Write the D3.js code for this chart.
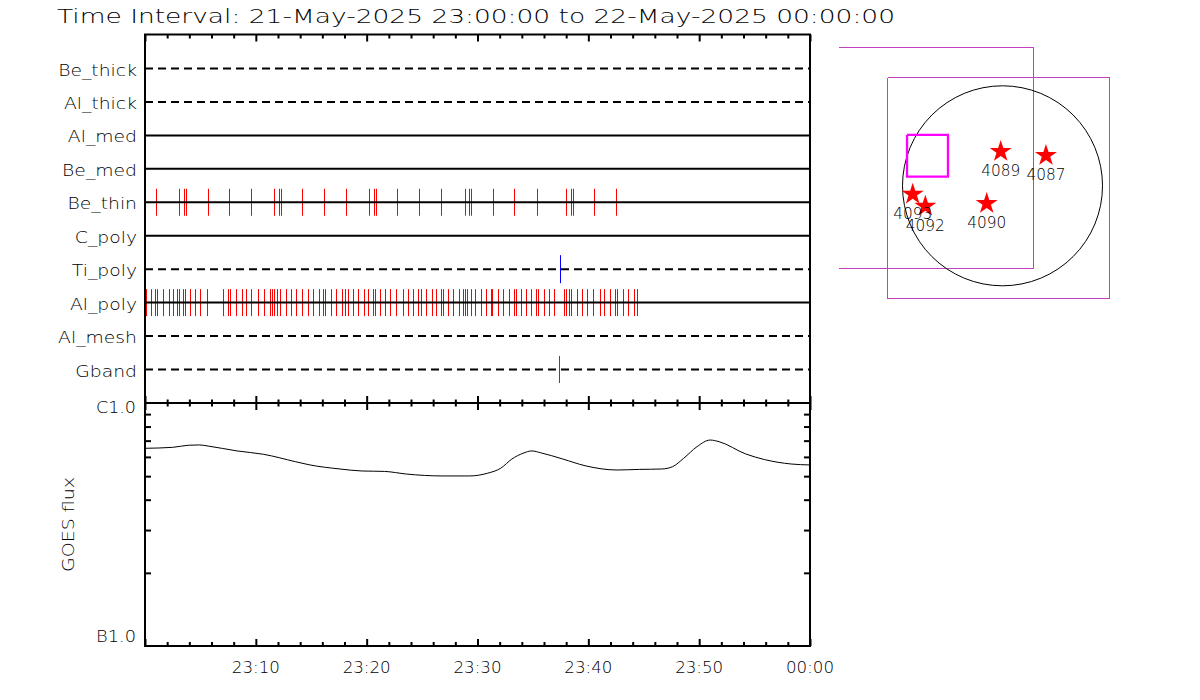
<!DOCTYPE html>
<html><head><meta charset="utf-8">
<script src="https://cdn.jsdelivr.net/npm/d3@7"></script>
<style>
body{margin:0;background:#fff}
svg{display:block}
text{font-family:"DejaVu Sans",sans-serif;font-weight:200;fill:#000}
</style>
</head><body>
<svg id="c" width="1200" height="700"></svg>
<script>
// ---------------- DATA ----------------
const titleText = "Time Interval: 21-May-2025 23:00:00 to 22-May-2025 00:00:00";
const channels = ["Be_thick","Al_thick","Al_med","Be_med","Be_thin","C_poly","Ti_poly","Al_poly","Al_mesh","Gband"];
const dashedChannels = ["Be_thick","Al_thick","Ti_poly","Al_mesh","Gband"];
// exposure times, minutes after 23:00
const beThinMin = [0.99,3.07,3.52,3.70,5.68,7.58,9.56,11.64,12.09,12.27,14.17,16.15,18.14,20.21,20.66,20.84,22.74,24.72,26.71,28.87,29.23,29.41,31.40,33.29,35.37,37.99,38.44,38.62,40.51,42.50];
const alPolyMin = [0.09,0.54,0.90,1.08,1.62,2.17,2.53,2.89,3.07,3.43,3.61,4.06,4.51,4.96,5.59,7.04,7.49,7.67,8.21,8.75,9.11,9.56,10.20,10.74,11.28,11.46,11.64,11.91,12.18,12.72,13.17,13.62,14.17,14.71,15.16,15.70,16.06,16.24,16.78,17.23,17.77,18.05,18.32,18.77,19.22,19.76,20.12,20.57,20.75,21.20,21.65,22.11,22.65,23.28,23.73,24.18,24.63,24.90,25.35,25.89,26.26,26.71,26.89,27.34,27.79,28.33,28.69,28.87,29.05,29.41,29.77,30.32,30.77,31.22,31.31,31.85,32.30,32.84,33.29,33.47,33.92,34.38,34.83,35.28,35.46,36.00,36.45,36.90,37.80,37.98,38.26,38.44,38.98,39.43,39.88,40.42,41.05,41.41,41.95,42.41,42.59,43.13,43.58,44.12,44.39];
const tiPolyMin = [37.47];
const gbandMin = [37.38];
// GOES flux (units of 1e-7 W/m^2)
const goesMin  = [0,2.5,3.9,4.9,5.7,8.3,10.7,13.6,14.8,17.6,19.6,21.6,23.6,26.8,29.3,30.9,32.1,33.1,34.1,34.9,35.7,37.7,39.7,42.6,44.6,46.6,47.6,48.6,49.8,51.0,51.8,54.2,55.9,58.3,60];
const goesFlux = [6.51,6.57,6.70,6.72,6.65,6.35,6.15,5.73,5.57,5.35,5.25,5.23,5.10,5.01,5.01,5.14,5.39,5.88,6.21,6.35,6.24,5.88,5.52,5.30,5.33,5.35,5.47,5.92,6.61,7.04,6.93,6.17,5.85,5.61,5.56];
const xTickLabels = ["23:10","23:20","23:30","23:40","23:50","00:00"];
const goesTickLabels = ["C1.0","B1.0"];
const goesYLabel = "GOES flux";
// active regions (arcsec from disk centre)
const arNames = ["4089","4087","4093","4092","4090"];
const arX = [-17,413,-853,-733,-150];
const arY = [326,288,-80,-194,-168];
const fovBox = [-907,-518,87,483];         // x0,x1,y0,y1 arcsec
const outerSquare = [-1090,1015,-1075,1027];
const otherRect = [-1553,293,-790,1316];
const sunRadius = 950;

// ---------------- CHART ----------------
const svg = d3.select("#c");
const t0 = Date.UTC(2025,4,21,23,0,0);
const toDate = m => new Date(t0 + m*60000);
const L = 145, R = 810, T1 = 34.5, B1 = 403, B2 = 646;
const x = d3.scaleUtc().domain([toDate(0), toDate(60)]).range([L, R]);
const yRow = d3.scalePoint().domain(channels).range([68.5, 369.5]);
const yG = d3.scaleLog().domain([1e-7, 1e-6]).range([B2, B1]);

// title
svg.append("text").attr("x",57).attr("y",23).attr("font-size",20)
  .attr("textLength",838).attr("lengthAdjust","spacingAndGlyphs").text(titleText);

// exposure ticks
const tickSets = [
  {ch:"Be_thin", t:beThinMin, c:"#ff0000", h:13.5},
  {ch:"Al_poly", t:alPolyMin, c:"#ff0000", h:13.5},
  {ch:"Ti_poly", t:tiPolyMin, c:"#0000ff", h:14},
  {ch:"Gband",   t:gbandMin,  c:"#ff0000", h:13.5}
];
tickSets.forEach(s => {
  svg.append("g").selectAll("line").data(s.t).join("line")
    .attr("x1", d => Math.round(x(toDate(d)))+0.5).attr("x2", d => Math.round(x(toDate(d)))+0.5)
    .attr("y1", yRow(s.ch)-s.h).attr("y2", yRow(s.ch)+s.h)
    .attr("stroke", s.c).attr("stroke-width",1);
});

// channel lines
svg.append("g").selectAll("line").data(channels).join("line")
  .attr("x1",L).attr("x2",R).attr("y1",d=>yRow(d)).attr("y2",d=>yRow(d))
  .attr("stroke","#000").attr("stroke-width",2)
  .attr("stroke-dasharray",d=>dashedChannels.includes(d)?"8,5":null);

// channel labels
svg.append("g").selectAll("text").data(channels).join("text")
  .attr("x",137).attr("y",d=>yRow(d)+7).attr("text-anchor","end").attr("font-size",15)
  .text(d=>d)
  .each(function(){ const w=this.getComputedTextLength(); d3.select(this).attr("textLength",w*1.25).attr("lengthAdjust","spacingAndGlyphs"); });

// time ticks
const major = d3.utcMinute.every(10).range(toDate(0), toDate(60.01));
const minor = d3.utcMinute.every(2).range(toDate(0), toDate(60.01)).filter(d=>d.getUTCMinutes()%10!==0);
function tAxis(gen, y, size, vals){
  svg.append("g").attr("transform",`translate(0,${y})`)
    .call(gen(x).tickValues(vals).tickSize(size).tickFormat(""))
    .call(g=>{g.select(".domain").remove(); g.selectAll("line").attr("stroke-width",2);});
}
tAxis(d3.axisBottom, T1, 4, minor); tAxis(d3.axisBottom, T1, 7, major);
tAxis(d3.axisTop, B1, 3.5, minor);  tAxis(d3.axisTop, B1, 7, major);
tAxis(d3.axisBottom, B1, 3.5, minor); tAxis(d3.axisBottom, B1, 7, major);
tAxis(d3.axisTop, B2, 4, minor); tAxis(d3.axisTop, B2, 7, major);

// GOES minor log ticks
const logTicks = yG.ticks().filter(v => v>1e-7*1.01 && v<1e-6*0.99);
[[d3.axisRight,L],[d3.axisLeft,R]].forEach(([gen,xx])=>{
  svg.append("g").attr("transform",`translate(${xx},0)`)
    .call(gen(yG).tickValues(logTicks).tickSize(6).tickFormat(""))
    .call(g=>{g.select(".domain").remove(); g.selectAll("line").attr("stroke-width",2);});
});

// GOES curve
const goes = goesMin.map((m,i)=>({t:toDate(m), v:goesFlux[i]*1e-7}));
svg.append("path").datum(goes)
  .attr("d", d3.line().x(d=>x(d.t)).y(d=>yG(d.v)).curve(d3.curveMonotoneX))
  .attr("fill","none").attr("stroke","#000").attr("stroke-width",1);

// frames
svg.append("rect").attr("x",L).attr("y",T1).attr("width",R-L).attr("height",B1-T1)
  .attr("fill","none").attr("stroke","#000").attr("stroke-width",2);
svg.append("rect").attr("x",L).attr("y",B1).attr("width",R-L).attr("height",B2-B1)
  .attr("fill","none").attr("stroke","#000").attr("stroke-width",2);

// GOES labels
svg.append("g").selectAll("text").data([1e-6,1e-7]).join("text")
  .attr("x",136).attr("y",d=>d===1e-6? yG(d)+10 : yG(d)-4).attr("text-anchor","end").attr("font-size",15)
  .attr("textLength",40).attr("lengthAdjust","spacingAndGlyphs")
  .text((d,i)=>goesTickLabels[i]);
svg.append("text").attr("transform",`translate(74,${(B1+B2)/2+0}) rotate(-90)`)
  .attr("text-anchor","middle").attr("font-size",15)
  .attr("textLength",95).attr("lengthAdjust","spacingAndGlyphs").text(goesYLabel);

// x labels
svg.append("g").selectAll("text").data(major.slice(1)).join("text")
  .attr("x",d=>x(d)).attr("y",673).attr("text-anchor","middle").attr("font-size",15)
  .attr("textLength",48).attr("lengthAdjust","spacingAndGlyphs")
  .text((d,i)=>xTickLabels[i]);

// ---------------- INSET ----------------
const sx = d3.scaleLinear().domain([0,950]).range([1002.5, 1002.5+100]);
const sy = d3.scaleLinear().domain([0,950]).range([185.8, 185.8-100]);
const ins = svg.append("g");
const rectPts = b => [[b[0],b[3]],[b[1],b[3]],[b[1],b[2]],[b[0],b[2]],[b[0],b[3]]];
const ln = d3.line().x(d=>sx(d[0])).y(d=>sy(d[1]));
ins.append("path").attr("d", ln([[otherRect[0],otherRect[3]],[otherRect[1],otherRect[3]],[otherRect[1],otherRect[2]],[otherRect[0],otherRect[2]]]))
  .attr("fill","none").attr("stroke","#c040c0").attr("stroke-width",1).attr("shape-rendering","crispEdges");
ins.append("path").attr("d", ln(rectPts(outerSquare)))
  .attr("fill","none").attr("stroke","#c040c0").attr("stroke-width",1).attr("shape-rendering","crispEdges");
ins.append("circle").attr("cx",sx(0)).attr("cy",sy(0)).attr("r",sx(sunRadius)-sx(0))
  .attr("fill","none").attr("stroke","#000").attr("stroke-width",1);
ins.append("path").attr("d", ln(rectPts(fovBox)))
  .attr("fill","none").attr("stroke","#ff00ff").attr("stroke-width",2.3);
const star = d3.symbol().type(d3.symbolStar).size(150);
ins.selectAll("path.star").data(arNames).join("path").attr("class","star")
  .attr("d",star).attr("transform",(d,i)=>`translate(${sx(arX[i])},${sy(arY[i])})`)
  .attr("fill","#ff0000");
ins.selectAll("text.ar").data(arNames).join("text").attr("class","ar")
  .attr("x",(d,i)=>sx(arX[i])).attr("y",(d,i)=>sy(arY[i])+25)
  .attr("text-anchor","middle").attr("font-size",15)
  .attr("textLength",39).attr("lengthAdjust","spacingAndGlyphs").text(d=>d);
</script>
</body></html>
